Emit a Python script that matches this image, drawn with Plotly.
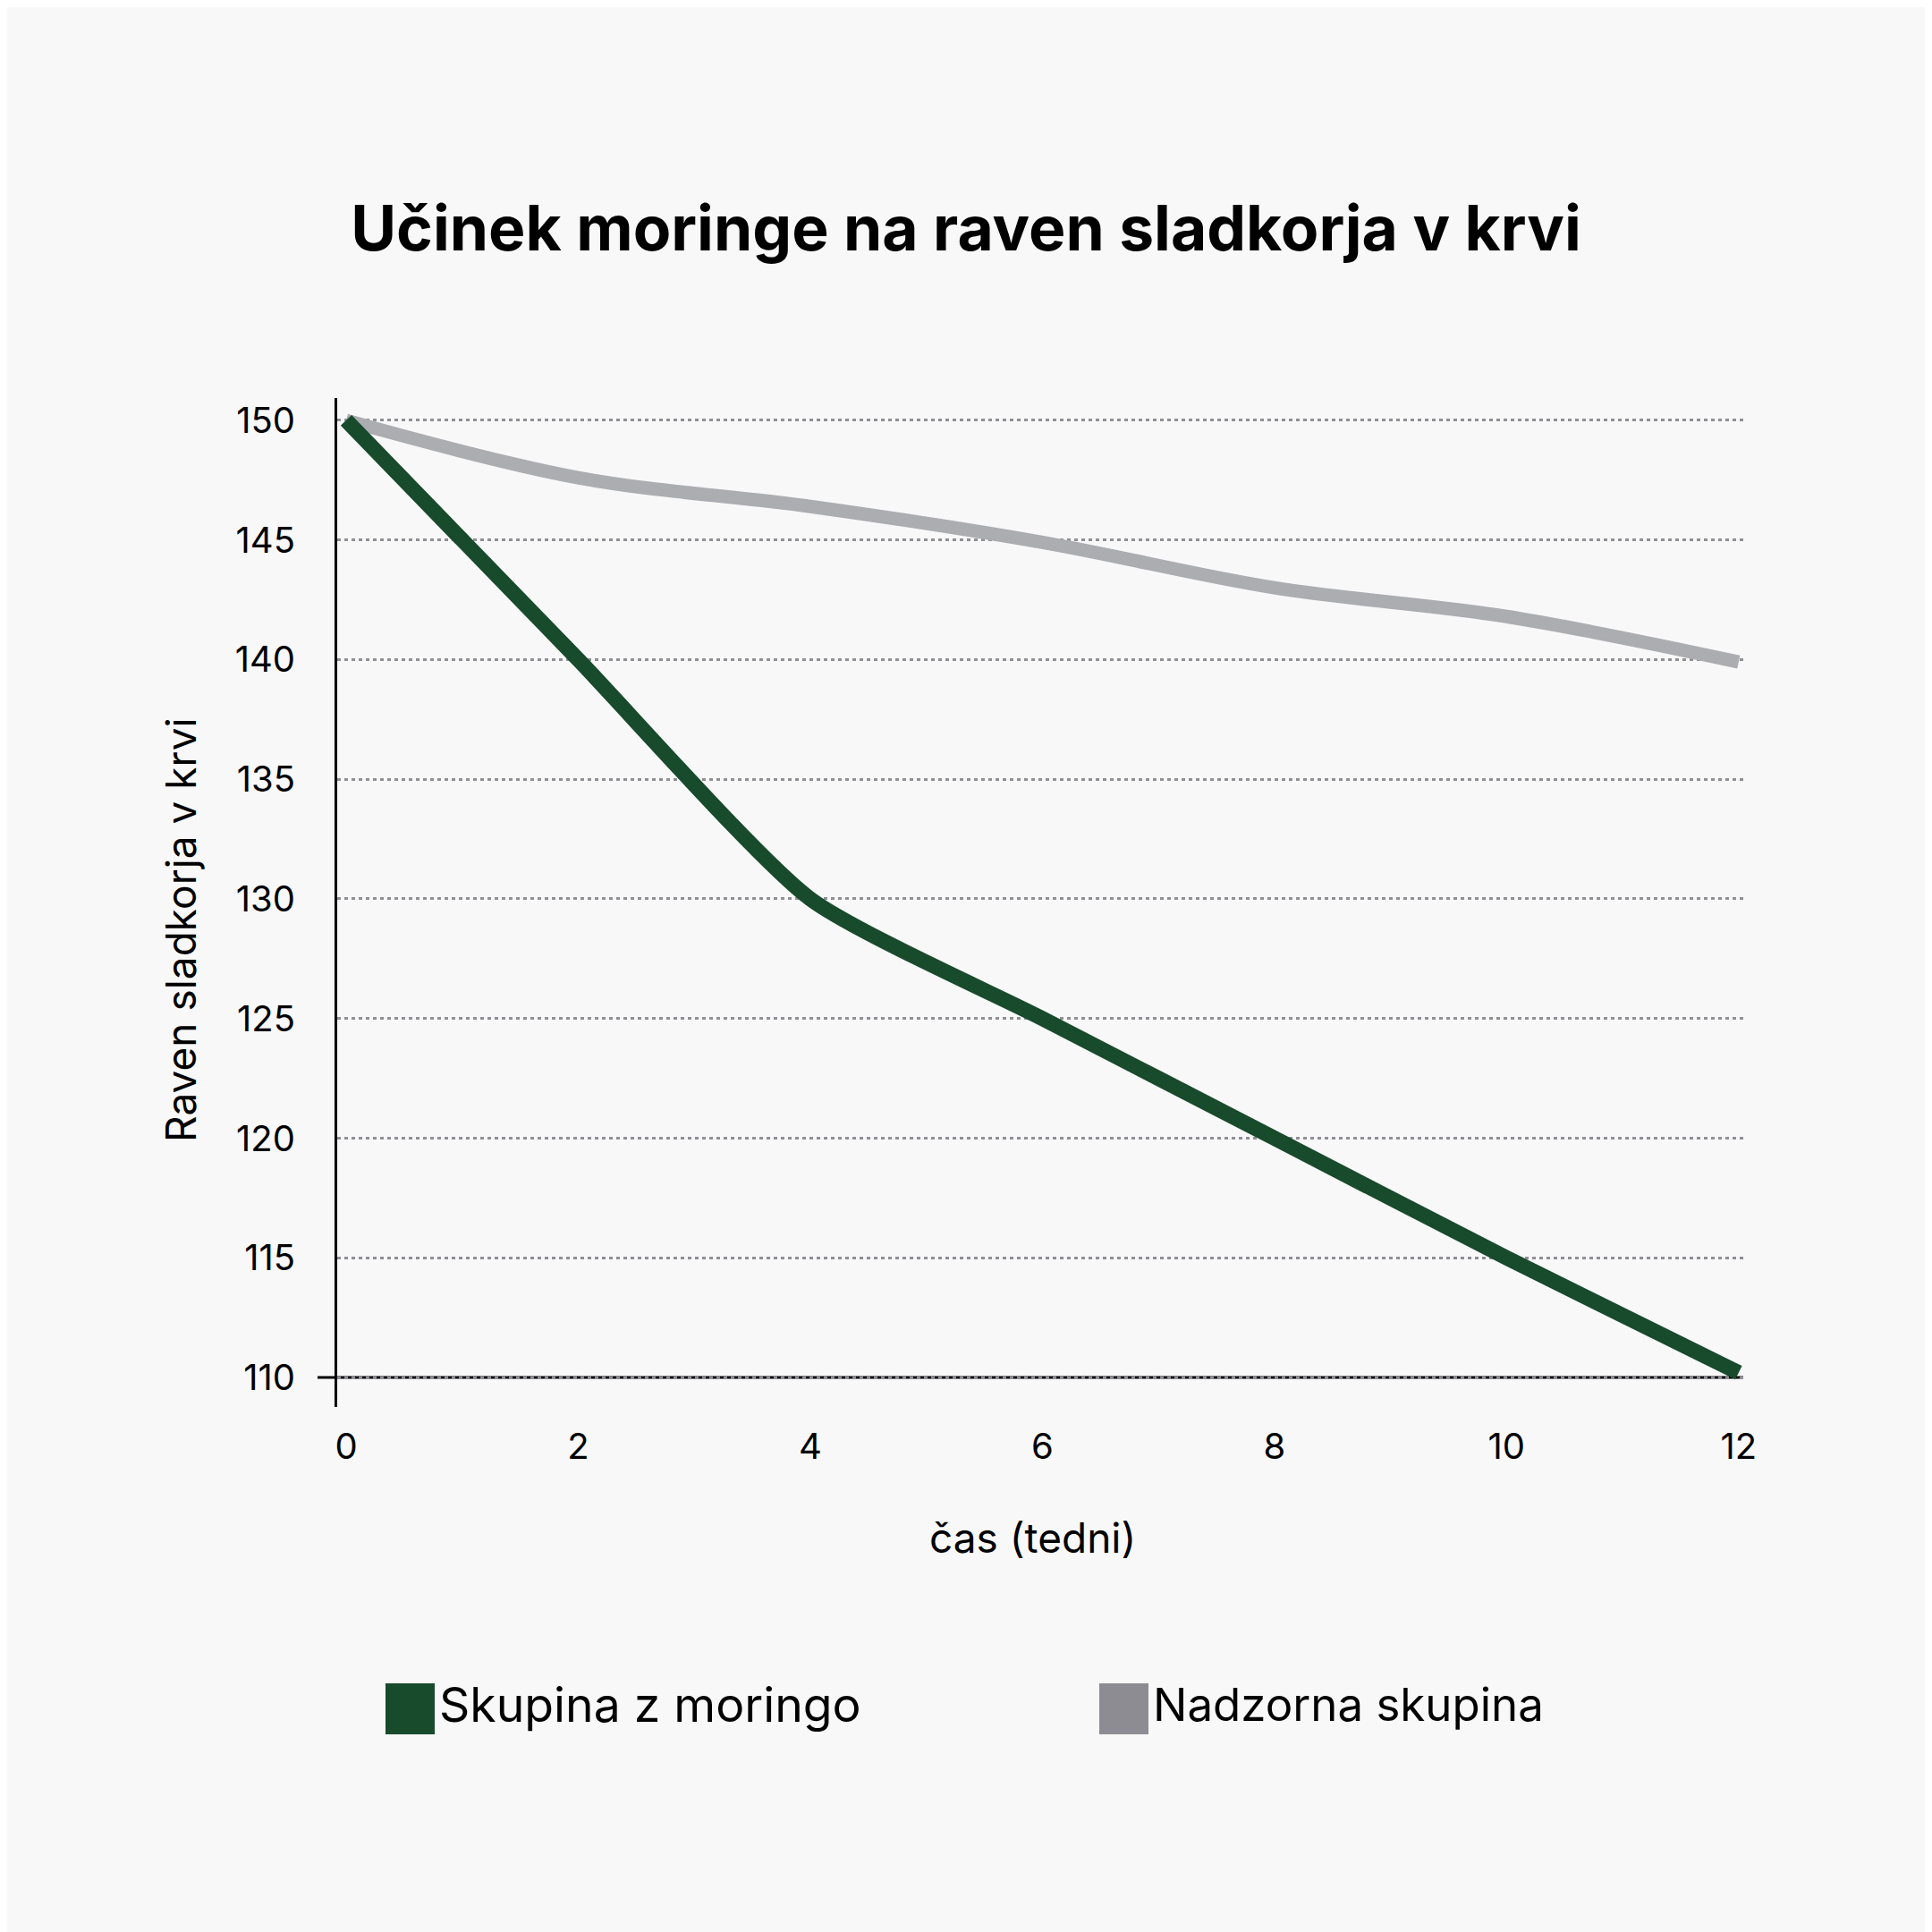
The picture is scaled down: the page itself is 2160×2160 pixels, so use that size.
import plotly.graph_objects as go

# data
weeks = [0, 2, 4, 6, 8, 10, 12]
moringa = [150, 140, 130, 125, 120, 115, 110.2]
control = [150, 147.6, 146.4, 144.9, 143.0, 141.8, 139.9]
series_names = ["Skupina z moringo", "Nadzorna skupina"]
y_ticks = [110, 115, 120, 125, 130, 135, 140, 145, 150]
x_ticks = [0, 2, 4, 6, 8, 10, 12]

green = "#184a2c"
grey_line = "#acadb1"
grey_legend = "#8e8c93"
bg = "#f8f8f8"
font = "Inter, Roboto, sans-serif"

W, H = 2160, 2160
OFF = 8  # page body margin pushes the figure down/right
ML, MT = 377 - OFF, 445 - OFF
MR, MB = W - (1949 - OFF), H - (1573 - OFF)
plot_w = W - ML - MR
plot_h = H - MT - MB


def px_x(p):
    return (p - OFF - ML) / plot_w


def px_y(p):
    return (H - MB - (p - OFF)) / plot_h


fig = go.Figure()

fig.add_trace(go.Scatter(
    x=weeks, y=control, name=series_names[1], mode="lines",
    line=dict(color=grey_line, width=15, shape="spline", smoothing=1),
    showlegend=False
))
fig.add_trace(go.Scatter(
    x=weeks, y=moringa, name=series_names[0], mode="lines",
    line=dict(color=green, width=17, shape="spline", smoothing=0.6),
    showlegend=False
))

fig.update_layout(
    width=W, height=H,
    margin=dict(l=ML, r=MR, t=MT, b=MB),
    paper_bgcolor=bg, plot_bgcolor=bg,
    font=dict(family=font, color="black"),
    title=dict(
        text="<b>Učinek moringe na raven sladkorja v krvi</b>",
        font=dict(size=69.5, family=font, color="black"),
        x=(1080 - OFF) / W, xref="container", xanchor="center",
        y=1 - (256 - OFF) / H, yref="container", yanchor="middle"
    ),
    xaxis=dict(
        range=[-0.077, 12.04], tickvals=x_ticks,
        showgrid=False, showline=False, zeroline=False,
        ticks="outside", ticklen=9, tickcolor="rgba(0,0,0,0)",
        tickfont=dict(size=40, family=font, color="black")
    ),
    yaxis=dict(
        range=[108.77, 150.93], tickvals=y_ticks,
        showgrid=True, gridcolor="#8f8f95", gridwidth=3, griddash="4px,4px",
        showline=True, linecolor="black", linewidth=3, zeroline=False,
        ticks="", ticklabelstandoff=36,
        tickfont=dict(size=40, family=font, color="black")
    ),
)

# x axis line at y=110, running a little past the y axis
fig.add_shape(type="line", xref="paper", yref="y",
              x0=px_x(355), x1=1.0, y0=y_ticks[0], y1=y_ticks[0],
              line=dict(color="black", width=3), layer="between")

# axis titles
fig.add_annotation(text="Raven sladkorja v krvi", textangle=-90,
                   xref="paper", yref="paper", x=px_x(202), y=px_y(1040),
                   xanchor="center", yanchor="middle", showarrow=False,
                   font=dict(size=46, family=font, color="black"))
fig.add_annotation(text="čas (tedni)",
                   xref="paper", yref="paper", x=px_x(1154), y=px_y(1719),
                   xanchor="center", yanchor="middle", showarrow=False,
                   font=dict(size=46, family=font, color="black"))

# custom legend with large square swatches
legend_items = [
    (series_names[0], green, 431, 489, 53.5),
    (series_names[1], grey_legend, 1229, 1287, 51),
]
for name, col, sx, tx, fs in legend_items:
    fig.add_shape(type="rect", xref="paper", yref="paper",
                  x0=px_x(sx), x1=px_x(sx + 55), y0=px_y(1882), y1=px_y(1939),
                  fillcolor=col, line=dict(width=0))
    fig.add_annotation(text=name, xref="paper", yref="paper",
                       x=px_x(tx), y=px_y(1905), xanchor="left", yanchor="middle",
                       showarrow=False,
                       font=dict(size=fs, family=font, color="black"))

fig.write_html("out.html")
